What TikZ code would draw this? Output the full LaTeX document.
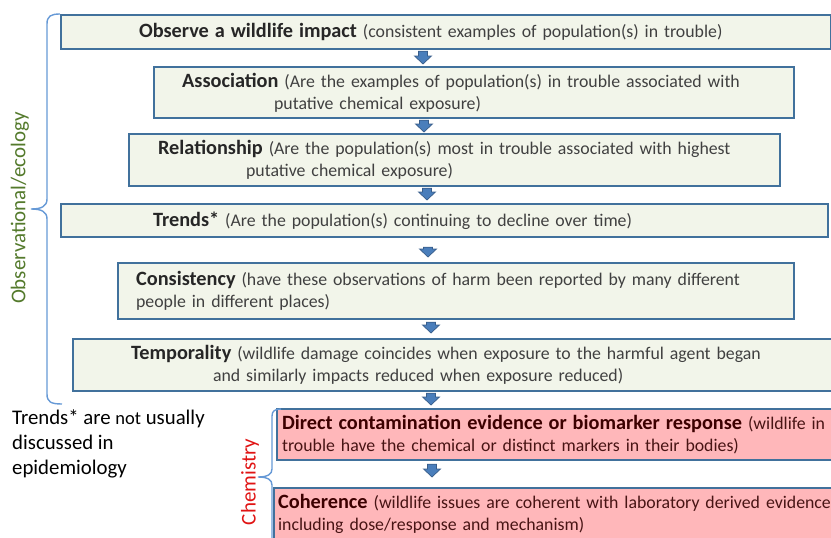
\documentclass[tikz,border=0pt]{standalone}
\usepackage{fontspec}
\setmainfont{Carlito}
\usetikzlibrary{calc}

\definecolor{boxline}{RGB}{65,113,156}
\definecolor{boxfill}{RGB}{242,245,234}
\definecolor{pinkfill}{RGB}{255,183,186}
\definecolor{bodytext}{RGB}{64,64,64}
\definecolor{headtext}{RGB}{38,38,38}
\definecolor{chembody}{RGB}{72,20,20}
\definecolor{chemhead}{RGB}{60,0,0}
\definecolor{arrowblue}{RGB}{74,126,187}
\definecolor{arrowedge}{RGB}{56,93,138}
\definecolor{bracecol}{RGB}{102,153,214}
\definecolor{obsgreen}{RGB}{84,122,44}
\definecolor{chemred}{RGB}{224,20,20}

\newcommand{\boxhead}[1]{{\fontsize{20.3}{22}\selectfont\bfseries\color{headtext}#1}}
\newcommand{\chemtitle}[1]{{\fontsize{20.3}{22}\selectfont\bfseries\color{chemhead}#1}}

\tikzset{
  greenbox/.style={draw=boxline, line width=2.2pt, fill=boxfill, align=left,
    anchor=north west, inner ysep=0pt, text=bodytext,
    font=\fontsize{17.8}{22}\selectfont},
  pinkbox/.style={greenbox, fill=pinkfill, text=chembody},
  % block arrow: #1 gap at the top, #2 gap at the bottom
  flow/.style 2 args={fill=arrowblue, draw=arrowedge, line width=0.7pt, line join=miter,
    to path={($(\tikztostart)+(-4.5,#1)$) -- ($(\tikztotarget)+(-4.5,-8-#2)$)
      -- ($(\tikztotarget)+(-8.5,-8-#2)$) -- ($(\tikztotarget)+(0,-#2)$)
      -- ($(\tikztotarget)+(8.5,-8-#2)$) -- ($(\tikztotarget)+(4.5,-8-#2)$)
      -- ($(\tikztostart)+(4.5,#1)$) -- cycle}},
  bracel/.style={draw=bracecol, line width=1.4pt},
}

\begin{document}
\begin{tikzpicture}[x=1pt,y=-1pt]
  \clip (0,0) rectangle (831,538);

  % observational / ecology boxes
  \node[greenbox, inner xsep=78pt, text width=614pt, minimum height=34pt] (obs) at (60,14)
    {\boxhead{Observe a wildlife impact} (consistent examples of population(s) in trouble)};
  \node[greenbox, inner xsep=28pt, text width=584pt, minimum height=51pt] (assoc) at (153,66)
    {\boxhead{Association} (Are the examples of population(s) in trouble associated with\\
     \hspace*{92pt}putative chemical exposure)};
  \node[greenbox, inner xsep=29pt, text width=593pt, minimum height=52pt] (rel) at (128,133)
    {\boxhead{Relationship} (Are the population(s) most in trouble associated with highest\\
     \hspace*{88pt}putative chemical exposure)};
  \node[greenbox, inner xsep=92pt, text width=583pt, minimum height=33pt] (trend) at (60,203)
    {\boxhead{Trends*} (Are the population(s) continuing to decline over time)};
  \node[greenbox, inner xsep=18pt, text width=640pt, minimum height=56pt] (cons) at (117,262)
    {\boxhead{Consistency} (have these observations of harm been reported by many different\\
     people in different places)};
  \node[greenbox, inner xsep=58pt, text width=662pt, minimum height=52pt] (temp) at (72,338)
    {\boxhead{Temporality} (wildlife damage coincides when exposure to the harmful agent began\\
     \hspace*{82pt}and similarly impacts reduced when exposure reduced)};

  % chemistry boxes
  \node[pinkbox, inner xsep=5pt, text width=615pt, minimum height=51pt] (direct) at (276,408)
    {\chemtitle{Direct contamination evidence or biomarker response} (wildlife in\\
     trouble have the chemical or distinct markers in their bodies)};
  \node[pinkbox, inner xsep=4pt, text width=617pt, minimum height=52pt] (coh) at (273,487)
    {\chemtitle{Coherence} (wildlife issues are coherent with laboratory derived evidence\\
     including dose/response and mechanism)};

  % block arrows
  \draw[flow={1}{2}] (obs.south -| 423,0) to (assoc.north -| 423,0);
  \draw[flow={1}{1}] (assoc.south -| 424,0) to (rel.north -| 424,0);
  \draw[flow={1}{3}] (rel.south -| 427,0) to (trend.north -| 427,0);
  \draw[flow={9}{5}] (trend.south -| 428,0) to (cons.north -| 428,0);
  \draw[flow={2}{5}] (cons.south -| 431,0) to (temp.north -| 431,0);
  \draw[flow={1}{3}] (temp.south -| 431,0) to (direct.north -| 431,0);
  \draw[flow={3}{10}] (direct.south -| 432,0) to (coh.north -| 432,0);

  % braces
  \draw[bracel] (60,14) .. controls (51,14) and (47,16) .. (47,24) -- (47,199)
    .. controls (47,206) and (42,209) .. (31,209) .. controls (42,209) and (47,212) .. (47,219)
    -- (47,394) .. controls (47,402) and (51,404) .. (62,404);
  \draw[bracel] (281,409) .. controls (275,409) and (272,411) .. (272,416) -- (272,469)
    .. controls (272,474) and (268,477) .. (258,477) .. controls (268,477) and (272,480) .. (272,485)
    -- (272,545);

  % side labels
  \node[rotate=90, text=obsgreen, font=\fontsize{21}{24}\selectfont] (obslabel) at (20,208)
    {Observational/ecology};
  \node[rotate=90, text=chemred, font=\fontsize{21}{24}\selectfont] (chemlabel) at (250,482)
    {Chemistry};
  \node[anchor=north west, align=left, inner sep=0pt, font=\fontsize{20.8}{25}\selectfont] (note) at (12,410)
    {Trends* are {\fontsize{18.5}{25}\selectfont not} usually\\discussed in\\epidemiology};
\end{tikzpicture}
\end{document}
